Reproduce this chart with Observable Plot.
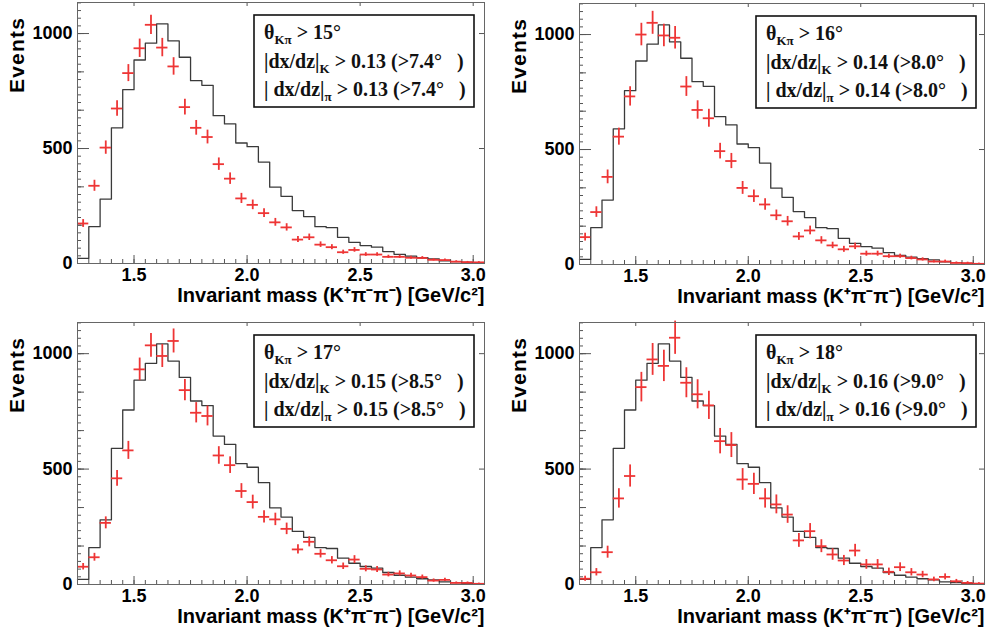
<!DOCTYPE html>
<html><head><meta charset="utf-8">
<script src="https://cdn.jsdelivr.net/npm/d3@7"></script>
<script src="https://cdn.jsdelivr.net/npm/@observablehq/plot@0.6"></script>
<style>
html,body{margin:0;padding:0;background:#fff;}
#wrap{position:relative;width:992px;height:639px;overflow:hidden;background:#fff;}
.panel{position:absolute;}
</style></head><body><div id="wrap"></div>
<script>
// Bin lower edges of the invariant-mass histogram (GeV/c^2), bin width 0.05
const binLow = [1.25,1.30,1.35,1.40,1.45,1.50,1.55,1.60,1.65,1.70,1.75,1.80,1.85,1.90,1.95,2.00,2.05,2.10,2.15,2.20,2.25,2.30,2.35,2.40,2.45,2.50,2.55,2.60,2.65,2.70,2.75,2.80,2.85,2.90,2.95,3.00];
const binWidth = 0.05;
// Simulation (black step histogram), same in all panels
const mcCounts = [22,160,280,590,756,885,958,1042,968,897,795,775,643,607,524,508,441,332,292,230,204,160,156,114,92,78,71,52,40,32,25,20,11,8,5,3];
// Data points (red crosses) and their error half-heights per cut
const data15 = [174,338,504,674,828,936,1038,939,857,680,590,550,432,369,283,255,219,179,157,104,114,82,71,49,59,39,39,29,29,25,24,16,15,8,6,5];
const err15  = [17,24,29,34,37,40,42,40,38,34,32,30,27,25,22,21,19,17,16,13,14,12,11,9,10,8,8,7,7,6,6,5,5,4,3,3];
const data16 = [119,228,381,556,731,1000,1051,996,986,774,672,636,493,450,333,297,261,214,188,122,148,105,83,66,79,47,47,36,36,28,22,13,13,7,6,3];
const err16  = [17,23,30,37,42,49,50,49,49,43,40,39,34,33,28,27,25,23,21,17,19,16,14,13,14,11,11,9,9,8,7,6,6,4,4,3];
const data17 = [77,118,267,460,581,932,1036,990,1055,842,744,730,559,517,405,357,293,282,241,152,185,133,105,79,108,68,65,43,48,39,32,17,20,7,7,3];
const err17  = [14,17,26,34,39,49,51,50,52,46,44,43,38,36,32,30,27,27,25,20,22,18,16,14,17,13,13,10,11,10,9,7,7,4,4,3];
const data18 = [25,53,140,373,470,855,975,947,1069,874,824,776,621,604,455,436,373,347,303,191,231,166,130,104,147,87,87,55,75,53,43,22,33,14,7,4];
const err18  = [11,16,26,42,48,64,69,68,72,65,63,61,55,54,47,46,42,41,38,30,33,28,25,22,27,21,21,16,19,16,14,10,13,8,6,4];
// Cut labels
const cutTheta = ["15","16","17","18"];
const cutSlope = ["0.13","0.14","0.15","0.16"];
const cutAngle = ["7.4","8.0","8.5","9.0"];
// Axis ticks
const xMajor = [1.5,2.0,2.5,3.0];
const yMajor = [0,500,1000];
const xDomain = [1.25,3.05];
const yDomain = [0,1135];
const yLabel = "Events";
const xLabel = "Invariant mass (K\u207A\u03C0\u207B\u03C0\u207B) [GeV/c\u00B2]";

const dataSets = [data15,data16,data17,data18];
const errSets = [err15,err16,err17,err18];

const RED = "#ee3535";
const W = 496, H = 320;
const layouts = [
  {left:0,   top:0,   m:{left:77,right:12,top:2,bottom:57}},
  {left:496, top:0,   m:{left:83,right:8, top:3,bottom:56}},
  {left:0,   top:319, m:{left:77,right:12,top:3,bottom:55}},
  {left:496, top:319, m:{left:83,right:8, top:3,bottom:55}}
];
const xMinor = d3.range(1.25, 3.051, 0.05).map(v => +v.toFixed(2));
const yMinor = d3.range(0, 1135, 100/3);
const yMid = d3.range(0, 1135, 500/3);

const wrap = document.getElementById("wrap");
layouts.forEach((L, i) => {
  const m = L.m;
  const innerW = W - m.left - m.right, innerH = H - m.top - m.bottom;
  const pts = binLow.map((x0, j) => ({x0, x1: x0 + binWidth, xc: x0 + binWidth/2, v: dataSets[i][j], e: errSets[i][j]}));
  const steps = binLow.map((x0, j) => ({x: x0, y: mcCounts[j]}))
    .concat([{x: binLow[binLow.length-1] + binWidth, y: mcCounts[mcCounts.length-1]}]);
  const plot = Plot.plot({
    width: W, height: H,
    marginLeft: m.left, marginRight: m.right, marginTop: m.top, marginBottom: m.bottom,
    x: {domain: xDomain},
    y: {domain: yDomain},
    style: {fontFamily: "'Liberation Sans', Arial, sans-serif", fontSize: "18px", fontWeight: "bold", color: "#000", background: "#fff", overflow: "visible"},
    marks: [
      Plot.tickX(xMinor, {x: d => d, insetTop: innerH - 4, stroke: "#555"}),
      Plot.tickX(xMajor, {x: d => d, insetTop: innerH - 8, stroke: "#555"}),
      Plot.tickX(xMajor, {x: d => d, insetBottom: innerH - 4, stroke: "#555"}),
      Plot.tickY(yMinor, {y: d => d, insetRight: innerW - 4, stroke: "#555"}),
      Plot.tickY(yMid, {y: d => d, insetRight: innerW - 7, stroke: "#555"}),
      Plot.tickY(yMajor, {y: d => d, insetRight: innerW - 12, stroke: "#555"}),
      Plot.tickY(yMajor, {y: d => d, insetLeft: innerW - 5, stroke: "#555"}),
      Plot.line(steps, {x: "x", y: "y", curve: "step-after", stroke: "#3a3a3a", strokeWidth: 1.3}),
      Plot.ruleY(pts, {y: "v", x1: "x0", x2: "x1", stroke: RED, strokeWidth: 1.8}),
      Plot.ruleX(pts, {x: "xc", y1: d => d.v - d.e, y2: d => d.v + d.e, stroke: RED, strokeWidth: 1.8}),
      Plot.frame({stroke: "#666"}),
      Plot.axisX({ticks: xMajor, tickSize: 0, tickPadding: 5, tickFormat: d3.format(".1f"), label: null}),
      Plot.axisY({ticks: yMajor, tickSize: 0, tickPadding: 5, tickFormat: d3.format("d"), label: null}),
      Plot.text([xLabel], {text: d => d, frameAnchor: "bottom-right", textAnchor: "end", dy: 38, fontSize: 20, fontWeight: "bold"})
    ]
  });
  const svg = d3.select(plot);
  // y-axis title, rotated, near the top of the axis
  svg.append("text")
    .attr("transform", `translate(${m.left - 60},${m.top + 53}) rotate(-90)`)
    .attr("text-anchor", "middle").attr("dy", "0.35em")
    .attr("font-size", 21).attr("font-weight", "bold").attr("letter-spacing", 1.2)
    .attr("fill", "#000")
    .text(yLabel);
  // legend box with the cut values
  const g = svg.append("g").attr("transform", `translate(${m.left + 177},${m.top + 13})`);
  g.append("rect").attr("width", 220).attr("height", 92).attr("fill", "#fff").attr("stroke", "#111").attr("stroke-width", 1.6);
  const serif = "'Liberation Serif', 'Times New Roman', serif";
  function line(y, parts) {
    const t = g.append("text").attr("x", 10).attr("y", y).attr("font-family", serif).attr("font-size", 20)
      .attr("font-weight", "bold").attr("text-anchor", "start").attr("fill", "#111").style("white-space", "pre");
    parts.forEach(p => {
      const s = t.append("tspan").text(p.t);
      if (p.sub) s.attr("font-size", 13).attr("dy", 5);
      if (p.up) s.attr("dy", -5);
    });
  }
  line(24, [{t: "\u03B8"}, {t: "K\u03C0", sub: true}, {t: " > " + cutTheta[i] + "\u00B0", up: true}]);
  line(53, [{t: "|dx/dz|"}, {t: "K", sub: true}, {t: " > " + cutSlope[i] + " (>" + cutAngle[i] + "\u00B0   )", up: true}]);
  line(81, [{t: "| dx/dz|"}, {t: "\u03C0", sub: true}, {t: " > " + cutSlope[i] + " (>" + cutAngle[i] + "\u00B0   )", up: true}]);

  const div = document.createElement("div");
  div.className = "panel";
  div.style.left = L.left + "px";
  div.style.top = L.top + "px";
  div.appendChild(plot);
  wrap.appendChild(div);
});
</script>
</body></html>
